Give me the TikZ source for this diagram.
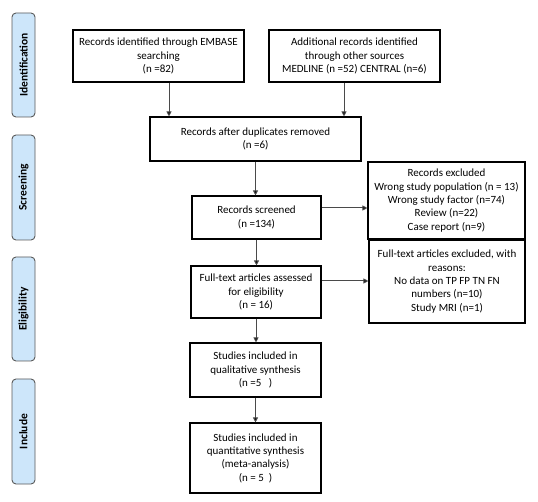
\documentclass[tikz,border=0pt]{standalone}
\usepackage{fontspec}
\setmainfont{Carlito}
\usetikzlibrary{arrows.meta}
\definecolor{tabfill}{HTML}{CDE6FA}
\definecolor{tabline}{HTML}{5A5A5A}
\definecolor{arrline}{HTML}{4A4A4A}
\begin{document}
\begin{tikzpicture}[x=1pt,y=-1pt,
  box/.style={draw=black,line width=1.1pt,align=center,inner sep=1pt,
    font=\fontsize{11}{13.3}\selectfont},
  tab/.style={draw=tabline,fill=tabfill,rounded corners=4pt,line width=0.9pt,
    minimum height=23pt,rotate=90,inner sep=0pt,text=black,
    font=\fontsize{11.5}{12}\selectfont\bfseries},
  arr/.style={draw=arrline,line width=1pt,-{Triangle[length=5pt,width=5pt,fill=black]}}]
\useasboundingbox (0,0) rectangle (538,502);
% side tabs
\node[tab,minimum width=104pt] (tid) at (23.5,65) {Identification};
\node[tab,minimum width=105pt] (tsc) at (23.5,187.5) {Screening};
\node[tab,minimum width=104pt] (tel) at (23.5,309) {Eligibility};
\node[tab,minimum width=105pt] (tin) at (23.5,431.5) {Include};
% boxes
\node[box,minimum width=171pt,minimum height=52pt] (embase) at (158.5,56)
  {Records identified through EMBASE\\searching\\(n =82)};
\node[box,minimum width=171pt,minimum height=52pt] (addl) at (354.5,56)
  {Additional records identified\\through other sources\\MEDLINE (n =52) CENTRAL (n=6)};
\node[box,minimum width=211pt,minimum height=44pt] (dup) at (255.5,139)
  {Records after duplicates removed\\(n =6)};
\node[box,minimum width=129pt,minimum height=43pt] (scr) at (256.5,217.5)
  {Records screened\\(n =134)};
\node[box,minimum width=157pt,minimum height=77pt] (excl) at (446.5,200.5)
  {Records excluded\\Wrong study population (n = 13)\\Wrong study factor (n=74)\\Review (n=22)\\Case report (n=9)};
\node[box,minimum width=156pt,minimum height=83pt] (ftex) at (447,281.5)
  {Full-text articles excluded, with\\reasons:\\No data on TP FP TN FN\\numbers (n=10)\\Study MRI (n=1)};
\node[box,minimum width=130pt,minimum height=52pt] (elig) at (256,292)
  {Full-text articles assessed\\for eligibility\\(n = 16)};
\node[box,minimum width=131pt,minimum height=54pt] (qual) at (255.5,370)
  {Studies included in\\qualitative synthesis\\(n =5\ \ \ )};
\node[box,minimum width=131pt,minimum height=70pt] (quant) at (255.5,458)
  {Studies included in\\quantitative synthesis\\(meta-analysis)\\(n = 5\ \ )};
% arrows
\draw[arr] ([xshift=10.5pt]embase.south) -- ([xshift=10.5pt]embase.south |- dup.north);
\draw[arr] ([xshift=-10.5pt]addl.south) -- ([xshift=-10.5pt]addl.south |- dup.north);
\draw[arr] (dup.south) -- (dup.south |- scr.north);
\draw[arr] ([yshift=9.5pt]scr.east) -- ([yshift=9.5pt]scr.east -| excl.west);
\draw[arr] (scr.south) -- (scr.south |- elig.north);
\draw[arr] ([yshift=11pt]elig.east) -- ([yshift=11pt]elig.east -| ftex.west);
\draw[arr] (elig.south) -- (elig.south |- qual.north);
\draw[arr] (qual.south) -- (qual.south |- quant.north);
\end{tikzpicture}
\end{document}
